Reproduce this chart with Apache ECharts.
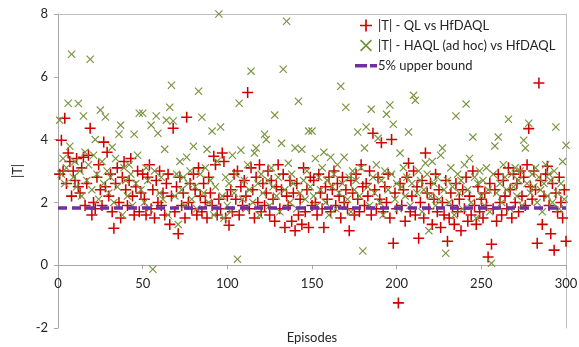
<!DOCTYPE html>
<html><head><meta charset="utf-8">
<script src="https://cdn.jsdelivr.net/npm/echarts@6/dist/echarts.min.js"></script>
<style>html,body{margin:0;padding:0;background:#fff}#c{width:579px;height:347px}</style>
</head><body><div id="c"></div>
<script>
const seriesNames = ['|T| - QL vs HfDAQL', '|T| - HAQL (ad hoc) vs HfDAQL', '5% upper bound'];
const xTicks = [0, 50, 100, 150, 200, 250, 300];
const yTicks = [-2, 0, 2, 4, 6, 8];
const upperBound = 1.82;
const qlValues = [
2.9,3.98,3.0,4.68,2.6,3.57,3.3,2.2,3.0,2.7,
3.4,2.5,2.3,3.1,3.44,1.9,2.6,3.5,4.36,1.6,
2.0,1.8,2.8,3.2,2.4,1.9,3.92,2.5,3.6,2.2,
2.9,1.7,1.18,2.6,3.1,2.0,1.5,2.8,3.3,2.4,
1.9,2.7,3.4,2.2,1.6,2.5,3.0,1.7,2.3,2.9,
2.1,1.6,2.8,3.2,1.8,2.4,1.5,2.7,2.0,3.0,
1.9,2.3,1.6,2.6,2.9,1.3,2.2,4.36,1.7,2.5,
1.0,2.8,1.9,2.3,1.5,4.71,2.0,2.6,1.8,2.9,
2.4,1.6,3.1,2.2,1.7,2.6,2.0,1.5,2.8,2.3,
1.9,3.47,3.2,1.6,2.1,1.8,3.57,3.3,1.5,2.2,
1.27,2.4,1.7,2.9,2.1,3.0,1.6,2.5,1.9,2.7,
2.2,5.5,1.8,3.1,2.4,1.5,2.8,2.0,3.2,1.7,
2.6,1.9,2.3,3.0,1.6,2.7,2.1,1.4,2.5,3.2,
1.8,2.4,2.9,1.2,2.2,1.9,2.7,1.4,2.3,1.1,
2.6,1.6,2.1,1.3,3.1,1.7,2.4,1.2,2.8,1.9,
2.7,2.0,1.6,2.9,2.3,1.8,1.2,2.5,2.1,2.8,
1.7,2.4,3.0,1.9,2.6,2.2,1.5,2.8,2.0,2.4,
1.8,1.1,2.7,2.3,1.6,2.9,2.1,1.7,3.2,2.5,
1.9,2.6,2.2,3.0,1.6,4.2,2.4,1.8,2.8,2.1,
3.9,1.7,2.5,2.0,2.9,1.5,4.0,0.7,2.3,1.8,
-1.2,2.6,1.9,2.4,1.4,2.8,3.25,1.7,2.2,3.0,
1.6,2.5,0.86,2.0,2.7,1.5,3.57,2.3,1.8,2.6,
1.3,2.1,2.9,1.7,2.4,1.2,2.0,1.6,2.7,0.76,
1.5,2.3,1.9,1.3,2.6,1.7,2.1,1.1,2.4,1.8,
2.8,1.4,2.2,1.6,3.0,1.9,1.3,2.5,1.7,2.1,
1.5,2.3,1.9,0.26,2.6,0.67,1.8,2.4,1.4,2.9,
2.0,1.6,2.7,2.2,1.8,3.1,2.4,1.5,2.9,2.0,
2.6,1.7,3.0,2.2,2.8,1.9,3.2,4.35,2.5,2.1,
3.0,2.4,0.7,5.8,2.7,1.3,2.2,2.9,3.15,1.9,
1.0,2.6,0.48,2.3,1.7,2.8,2.0,1.5,2.4,0.76
];
const haqlValues = [
4.62,2.9,3.4,2.6,3.1,5.16,3.79,6.72,2.8,3.3,
2.5,5.15,3.0,2.2,4.75,3.6,2.7,3.2,6.56,2.4,
3.5,4.0,2.9,2.1,4.94,3.3,2.6,4.72,3.0,2.3,
2.8,3.76,2.0,3.4,2.5,4.17,4.46,1.6,3.1,2.7,
2.2,3.2,2.9,1.9,4.17,2.6,3.5,4.84,2.4,4.84,
2.0,3.1,2.7,1.8,4.46,-0.13,3.0,4.75,4.2,2.3,
2.8,2.1,3.69,4.62,1.6,5.03,5.73,4.59,2.2,2.9,
1.3,3.3,2.4,2.8,1.9,3.44,2.6,3.0,2.1,3.79,
2.5,1.8,5.54,2.9,4.71,2.3,3.1,3.69,2.0,2.7,
4.27,1.6,2.5,3.31,8.0,4.4,2.2,1.5,2.8,1.9,
2.6,1.7,3.5,2.3,2.9,0.19,5.16,3.66,2.1,2.7,
1.8,3.2,2.4,6.18,2.0,3.57,3.73,2.6,1.6,2.9,
2.3,4.17,4.0,2.7,1.9,3.1,2.5,4.78,2.2,2.8,
1.7,3.88,6.24,2.4,7.77,3.25,2.0,2.9,2.6,3.73,
1.8,5.22,2.3,3.69,2.7,2.1,3.0,4.27,2.5,4.27,
2.2,3.4,1.9,2.8,2.4,3.1,3.6,2.0,2.7,1.6,
3.44,2.5,2.9,1.8,3.2,2.3,5.7,2.6,3.44,5.03,
2.1,2.8,1.7,3.0,2.4,2.7,4.24,2.2,3.1,0.45,
3.73,4.4,2.5,1.9,4.97,2.8,2.3,3.2,4.04,2.0,
2.7,1.6,3.0,4.81,2.4,5.1,2.9,4.49,2.1,2.6,
1.8,3.57,2.5,3.1,2.2,2.8,4.24,1.9,2.6,5.41,
5.25,2.3,3.0,2.7,1.7,2.4,3.25,2.9,1.1,2.2,
3.3,2.6,1.9,2.8,2.1,3.5,3.73,2.4,0.38,2.7,
2.0,3.1,2.5,1.6,4.75,2.9,2.3,2.7,1.8,3.2,
5.13,2.4,3.4,2.0,4.08,2.8,1.5,2.6,3.0,2.2,
2.7,1.9,3.1,2.4,1.7,0.06,2.9,3.8,2.3,4.08,
2.6,2.0,3.2,2.8,2.4,4.65,1.8,2.9,2.5,3.1,
2.2,2.7,3.0,1.9,3.98,3.73,2.6,4.52,2.3,2.9,
2.5,3.1,2.0,2.8,2.4,1.7,2.6,3.2,2.2,2.9,
2.7,2.0,3.0,4.4,2.3,1.8,2.6,3.3,2.1,3.82
];
const episodes = qlValues.map((v, i) => i + 1);

const plusPath = 'path://M4.3,0H5.7V4.3H10V5.7H5.7V10H4.3V5.7H0V4.3H4.3Z';
const crossPath = 'path://M0,1L1,0L5,4L9,0L10,1L6,5L10,9L9,10L5,6L1,10L0,9L4,5Z';
const dashIcon = 'path://M0,0L0.01,0L0,0.01Z M0,4H12V7.5H0Z M15,4H22V7.5H15Z M22,11L21.99,11L22,10.99Z';
const font = 'Lato, "Open Sans", sans-serif';
const gridTop = 14, gridBottom = 19, chartH = 347;
// shift the category axis up to the y = 0 line
const zeroOffset = -(chartH - gridTop - gridBottom) * (0 - yTicks[0]) / (yTicks[yTicks.length-1] - yTicks[0]);
const chart = echarts.init(document.getElementById('c'), null, {renderer: 'canvas'});
const axisLabelStyle = {color: '#262626', fontSize: 13, fontFamily: font};
chart.setOption({
  animation: false,
  grid: {left: 58, right: 13, top: gridTop, bottom: gridBottom, outerBoundsMode: 'none', containLabel: false},
  legend: {
    orient: 'vertical', left: 350, top: 14, itemGap: 7,
    itemWidth: 22, itemHeight: 12,
    textStyle: {color: '#262626', fontSize: 13, fontFamily: font, padding: [0,0,0,-4]},
    data: [seriesNames[0], seriesNames[1], {name: seriesNames[2], icon: dashIcon, itemStyle: {color: '#7030a0'}}]
  },
  xAxis: [{
    type: 'value', min: xTicks[0], max: xTicks[xTicks.length-1], interval: 50,
    position: 'bottom', offset: zeroOffset,
    name: 'Episodes', nameLocation: 'middle', nameGap: 66,
    nameTextStyle: {color: '#262626', fontSize: 13, fontFamily: font},
    axisLine: {show: true, onZero: false, lineStyle: {color: '#a6a6a6', width: 1}},
    axisTick: {show: true, length: 4, lineStyle: {color: '#a6a6a6'}},
    axisLabel: Object.assign({margin: 12}, axisLabelStyle),
    splitLine: {show: false}
  }, {
    type: 'value', position: 'top', min: 0, max: 300,
    axisLine: {show: true, onZero: false, lineStyle: {color: '#bfbfbf'}},
    axisTick: {show: false}, axisLabel: {show: false}, splitLine: {show: false}
  }],
  yAxis: [{
    type: 'value', min: yTicks[0], max: yTicks[yTicks.length-1], interval: 2,
    name: '|T|', nameLocation: 'middle', nameGap: 34,
    nameTextStyle: {color: '#262626', fontSize: 13, fontFamily: font},
    axisLine: {show: true, onZero: false, lineStyle: {color: '#a6a6a6'}},
    axisTick: {show: true, length: 4, lineStyle: {color: '#a6a6a6'}},
    axisLabel: Object.assign({margin: 10}, axisLabelStyle),
    splitLine: {show: false}
  }, {
    type: 'value', position: 'right', min: -2, max: 8,
    axisLine: {show: true, onZero: false, lineStyle: {color: '#bfbfbf'}},
    axisTick: {show: false}, axisLabel: {show: false}, splitLine: {show: false}
  }],
  series: [{
    name: seriesNames[0], type: 'scatter', symbol: plusPath, symbolSize: 11,
    itemStyle: {color: '#d00000', opacity: 1},
    data: episodes.map((e, i) => [e, qlValues[i]])
  }, {
    name: seriesNames[1], type: 'scatter', symbol: crossPath, symbolSize: 8,
    itemStyle: {color: '#77933c', opacity: 1},
    data: episodes.map((e, i) => [e, haqlValues[i]])
  }, {
    name: seriesNames[2], type: 'line', symbol: 'none', z: 5,
    lineStyle: {color: '#7030a0', width: 3.5, type: [9, 5]},
    itemStyle: {color: '#7030a0'},
    data: [[xTicks[0], upperBound], [xTicks[xTicks.length-1], upperBound]]
  }]
});
</script></body></html>
